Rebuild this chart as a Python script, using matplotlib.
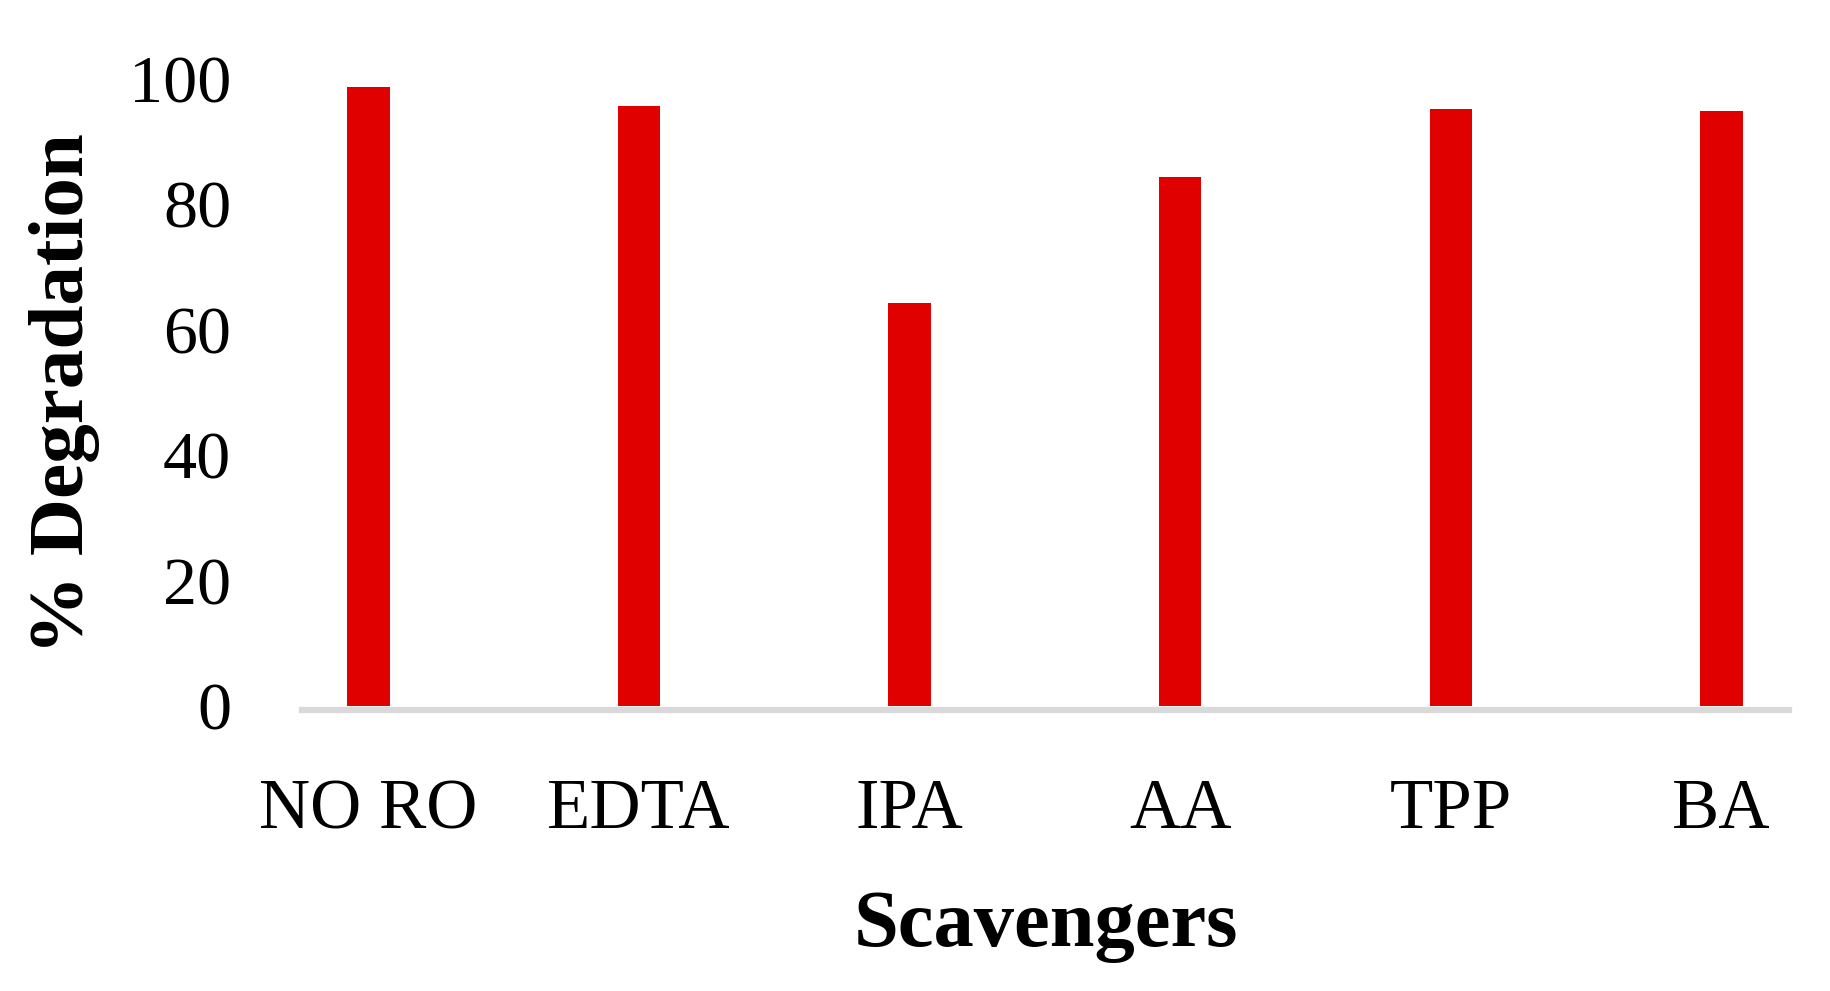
# Bar chart: % degradation with different scavengers
import numpy as np
import matplotlib.pyplot as plt

# data
scavengers = ['NO RO', 'EDTA', 'IPA', 'AA', 'TPP', 'BA']
degradation = [98.7, 95.7, 64.3, 84.4, 95.2, 94.9]
yticks = [0, 20, 40, 60, 80, 100]

bar_color = '#E00000'
axis_color = '#D9D9D9'

plt.rcParams['font.family'] = ['Liberation Serif', 'DejaVu Serif']

fig = plt.figure(figsize=(18.3, 9.91), dpi=100)
ax = fig.add_axes([302/1830, (991-706)/991, (1789-302)/1830, (706-79)/991])

x = np.arange(len(scavengers))
ax.bar(x, degradation, width=0.157, color=bar_color, zorder=2)

ax.set_xlim(-0.246, 5.25)
ax.set_ylim(0, 100)
ax.set_yticks(yticks)
ax.set_xticks(x)
ax.set_xticklabels(scavengers)

ax.tick_params(axis='y', length=0, labelsize=49, pad=51)
ax.tick_params(axis='x', length=0, labelsize=51, pad=49)

for side in ['top', 'right', 'left']:
    ax.spines[side].set_visible(False)
ax.spines['bottom'].set_color(axis_color)
ax.spines['bottom'].set_linewidth(4.5)
ax.spines['bottom'].set_position(('outward', 3))

ax.set_xlabel('Scavengers', fontsize=58, fontweight='bold')
ax.xaxis.label.set_va('center')
ax.xaxis.set_label_coords(0.5, -0.352)

ax.set_ylabel('% Degradation', fontsize=57, fontweight='bold')
ax.yaxis.label.set_va('center')
ax.yaxis.set_label_coords(-0.160, 0.499)

fig.savefig('out.png', dpi=100)
